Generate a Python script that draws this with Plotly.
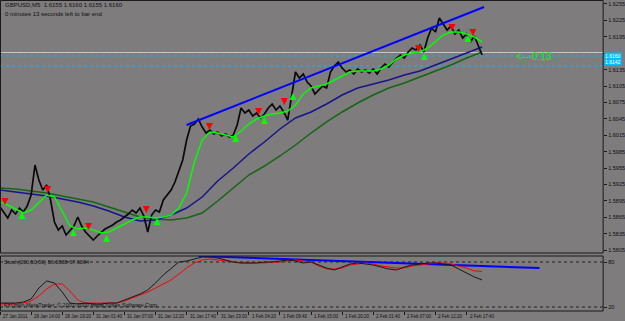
import numpy as np
import plotly.graph_objects as go

# ---------------- data ----------------
# close prices, one value every 8 M5 bars
close = [1.58837, 1.58727, 1.58636, 1.58782, 1.58709, 1.58819, 1.58746, 1.58855, 1.59056, 1.59605,
         1.59331, 1.59148, 1.59239, 1.58965, 1.58563, 1.58416, 1.58490, 1.58325, 1.58416, 1.58490,
         1.58654, 1.58490, 1.58380, 1.58307, 1.58233, 1.58307, 1.58380, 1.58435, 1.58471, 1.58508,
         1.58563, 1.58599, 1.58654, 1.58709, 1.58782, 1.58727, 1.58819, 1.58672, 1.58380, 1.58691,
         1.58782, 1.58746, 1.58965, 1.59056, 1.59148, 1.59294, 1.59514, 1.59697, 1.60062, 1.60318,
         1.60355, 1.60446, 1.60300, 1.60190, 1.60245, 1.60172, 1.60209, 1.60136, 1.60172, 1.60117,
         1.60154, 1.60337, 1.60648, 1.60556, 1.60611, 1.60501, 1.60556, 1.60465, 1.60538, 1.60648,
         1.60721, 1.60611, 1.60684, 1.60575, 1.60428, 1.60885, 1.61306, 1.61196, 1.61270, 1.61123,
         1.61050, 1.60904, 1.60977, 1.61050, 1.61014, 1.61306, 1.61416, 1.61489, 1.61379, 1.61306,
         1.61343, 1.61270, 1.61361, 1.61306, 1.61343, 1.61288, 1.61361, 1.61270, 1.61379, 1.61452,
         1.61398, 1.61489, 1.61562, 1.61617, 1.61562, 1.61672, 1.61745, 1.61709, 1.61800, 1.61672,
         1.61928, 1.62111, 1.62038, 1.62294, 1.62184, 1.62074, 1.62148, 1.62001, 1.62074, 1.61928,
         1.62001, 1.61855, 1.61965, 1.61782, 1.61617]
close_step = 8

# fast MA (lime), one value every 16 bars
ma_fast = [1.58928, 1.58874, 1.58800, 1.58727, 1.58782, 1.58928, 1.59056, 1.59020, 1.58746, 1.58490,
           1.58435, 1.58453, 1.58416, 1.58361, 1.58380, 1.58453, 1.58526, 1.58599, 1.58654, 1.58654,
           1.58636, 1.58654, 1.58691, 1.58819, 1.59093, 1.59660, 1.60062, 1.60209, 1.60190, 1.60154,
           1.60117, 1.60227, 1.60355, 1.60446, 1.60501, 1.60538, 1.60556, 1.60593, 1.60703, 1.60904,
           1.61014, 1.61050, 1.61087, 1.61160, 1.61233, 1.61306, 1.61324, 1.61324, 1.61324, 1.61361,
           1.61434, 1.61544, 1.61617, 1.61654, 1.61672, 1.61745, 1.61873, 1.61983, 1.62038, 1.62038,
           1.62001, 1.61946, 1.61855]
ma_fast_step = 16

# slow MA (navy), one value every 32 bars
ma_slow = [1.59148, 1.59111, 1.59075, 1.59038, 1.58983, 1.58928, 1.58855, 1.58764, 1.58654, 1.58581,
           1.58599, 1.58691, 1.58819, 1.59020, 1.59313, 1.59550, 1.59806, 1.60026, 1.60264, 1.60465,
           1.60575, 1.60721, 1.60885, 1.61014, 1.61087, 1.61160, 1.61251, 1.61324, 1.61434, 1.61544,
           1.61654, 1.61763]
# slowest MA (dark green), one value every 32 bars
ma_slowest = [1.59185, 1.59166, 1.59130, 1.59093, 1.59038, 1.58983, 1.58928, 1.58837, 1.58746, 1.58654,
              1.58618, 1.58599, 1.58636, 1.58727, 1.58947, 1.59185, 1.59422, 1.59587, 1.59770, 1.59971,
              1.60190, 1.60392, 1.60575, 1.60739, 1.60885, 1.61014, 1.61105, 1.61215, 1.61324, 1.61434,
              1.61562, 1.61672]
ma_slow_step = 32

# signal arrows (bar index, price)
sell_bars = [10, 98, 182, 301, 431, 532, 585, 861, 930, 973]
sell_price = [1.58874, 1.59093, 1.58416, 1.58727, 1.60245, 1.60520, 1.60703, 1.61672, 1.62056, 1.61965]
buy_bars = [45, 151, 219, 323, 485, 544, 603, 873, 963]
buy_price = [1.58746, 1.58435, 1.58325, 1.58636, 1.60154, 1.60483, 1.60922, 1.61654, 1.61983]

# channel trend line
chan_bars = [384, 996]
chan_price = [1.60337, 1.62495]

# horizontal lines
bid_level = 1.61663
level_hi = 1.61600
level_lo = 1.61416

# stochastic, one value every 16 bars
stoch_k = [25.3, 25.3, 25.3, 26.7, 30.7, 45.3, 54.7, 52.0, 40.0, 25.3, 24.0, 25.3, 24.0, 24.0, 25.3, 25.3,
           29.3, 33.3, 37.3, 42.7, 52.0, 62.7, 72.0, 80.0, 81.3, 84.0, 86.7, 86.7, 85.3, 82.7, 80.0, 78.7,
           78.7, 78.7, 80.0, 80.0, 81.3, 82.7, 81.3, 78.7, 80.0, 76.0, 72.0, 69.3, 73.3, 77.3, 78.7, 77.3,
           76.0, 73.3, 70.7, 69.3, 73.3, 76.0, 77.3, 78.7, 78.7, 77.3, 76.0, 70.7, 65.3, 60.0, 56.1]
stoch_d = [24.0, 24.0, 24.0, 25.3, 28.0, 34.7, 44.0, 50.7, 50.7, 41.3, 29.3, 25.3, 25.3, 25.3, 25.3, 25.3,
           28.0, 32.0, 36.0, 40.0, 45.3, 50.7, 56.0, 64.0, 72.0, 78.7, 82.7, 84.0, 82.7, 81.3, 80.0, 78.7,
           78.7, 78.7, 78.7, 80.0, 80.0, 81.3, 82.7, 81.3, 80.0, 74.7, 70.7, 70.7, 72.0, 76.0, 77.3, 78.7,
           77.3, 74.7, 73.3, 72.0, 72.0, 74.7, 76.0, 77.3, 78.7, 78.7, 77.3, 74.7, 72.0, 68.0, 67.6]
stoch_step = 16
stoch_trend_bars = [409, 1110]
stoch_trend_vals = [88.0, 72.0]

# axis labels
price_ticks = [1.5805, 1.5835, 1.5865, 1.5895, 1.5925, 1.5955, 1.5985, 1.6015, 1.6045, 1.6075,
               1.6105, 1.6135, 1.6165, 1.6195, 1.6225, 1.6255]
price_labels = ["1.5805", "1.5835", "1.5865", "1.5895", "1.5925", "1.5955", "1.5985", "1.6015",
                "1.6045", "1.6075", "1.6105", "1.6135", "", "1.6195", "1.6225", "1.6255"]
time_bars = [0, 64, 128, 192, 256, 320, 384, 448, 512, 576, 640, 704, 768, 832, 896, 960]
time_labels = ["27 Jan 2011", "28 Jan 14:00", "28 Jan 19:20", "31 Jan 01:40", "31 Jan 07:00",
               "31 Jan 12:20", "31 Jan 17:40", "31 Jan 23:00", "1 Feb 04:20", "1 Feb 09:40",
               "1 Feb 15:00", "1 Feb 20:20", "2 Feb 01:40", "2 Feb 07:00", "2 Feb 12:20", "2 Feb 17:40"]

# ---------------- figure ----------------
W, H = 625, 321
XR = 0.9712           # right end of plotting area (paper)
MAIN = [68 / H, 1.0]
SUB = [10 / H, 65 / H]
BG = "#7e7c7c"
FONT = "Liberation Sans"
TXT = "#111111"

fig = go.Figure()

def bars(n, step):
    return np.arange(n) * step

# horizontal levels
fig.add_trace(go.Scatter(x=[0, 1241], y=[bid_level] * 2, mode="lines",
                         line=dict(color="#c8c8c8", width=1), hoverinfo="skip"))
for lv in (level_hi, level_lo):
    fig.add_trace(go.Scatter(x=[0, 1241], y=[lv] * 2, mode="lines",
                             line=dict(color="#00bfff", width=1, dash="dot"), hoverinfo="skip"))

fig.add_trace(go.Scatter(x=bars(len(ma_slowest), ma_slow_step), y=ma_slowest, mode="lines",
                         line=dict(color="#156615", width=1.5)))
fig.add_trace(go.Scatter(x=bars(len(ma_slow), ma_slow_step), y=ma_slow, mode="lines",
                         line=dict(color="#16168c", width=1.5)))
fig.add_trace(go.Scatter(x=bars(len(close), close_step), y=close, mode="lines",
                         line=dict(color="#0a0a0a", width=1.7)))
fig.add_trace(go.Scatter(x=bars(len(ma_fast), ma_fast_step), y=ma_fast, mode="lines",
                         line=dict(color="#00ff00", width=1.5)))
fig.add_trace(go.Scatter(x=chan_bars, y=chan_price, mode="lines",
                         line=dict(color="#0000ff", width=2)))
fig.add_trace(go.Scatter(x=sell_bars, y=sell_price, mode="markers",
                         marker=dict(symbol="arrow-down", size=7, color="#ff0000",
                                     line=dict(width=0))))
fig.add_trace(go.Scatter(x=buy_bars, y=buy_price, mode="markers",
                         marker=dict(symbol="arrow-up", size=7, color="#00ff00",
                                     line=dict(width=0))))

# stochastic
for lv in (80, 20):
    fig.add_trace(go.Scatter(x=[0, 1241], y=[lv, lv], mode="lines", yaxis="y2",
                             line=dict(color="#222222", width=1, dash="dot"), hoverinfo="skip"))
fig.add_trace(go.Scatter(x=stoch_trend_bars, y=stoch_trend_vals, mode="lines", yaxis="y2",
                         line=dict(color="#0000ff", width=2)))
fig.add_trace(go.Scatter(x=bars(len(stoch_d), stoch_step), y=stoch_d, mode="lines", yaxis="y2",
                         line=dict(color="#ff0000", width=1)))
fig.add_trace(go.Scatter(x=bars(len(stoch_k), stoch_step), y=stoch_k, mode="lines", yaxis="y2",
                         line=dict(color="#1a1a1a", width=1)))

annotations = []
for b, t in zip(time_bars, time_labels):
    annotations.append(dict(x=b + 2, y=SUB[0] - 0.003, xref="x", yref="paper", text=t,
                            showarrow=False, xanchor="left", yanchor="top",
                            font=dict(family=FONT, size=4.5, color=TXT)))
annotations += [
    dict(x=0.005, y=0.999, xref="paper", yref="paper", xanchor="left", yanchor="top",
         text="GBPUSD,M5  1.6155 1.6160 1.6155 1.6160", showarrow=False,
         font=dict(family=FONT, size=6, color=TXT)),
    dict(x=0.005, y=0.972, xref="paper", yref="paper", xanchor="left", yanchor="top",
         text="0 minutes 13 seconds left to bar end", showarrow=False,
         font=dict(family=FONT, size=6, color=TXT)),
    dict(x=0.004, y=SUB[1] - 0.004, xref="paper", yref="paper", xanchor="left", yanchor="top",
         text="Stoch(200,50,50) 56.0838 67.6384", showarrow=False,
         font=dict(family=FONT, size=5.5, color=TXT)),
    dict(x=0.004, y=SUB[0] + 0.004, xref="paper", yref="paper", xanchor="left", yanchor="bottom",
         text="FXOpen MetaTrader, © 2001-2009 MetaQuotes Software Corp.", showarrow=False,
         font=dict(family=FONT, size=5.5, color=TXT)),
    dict(x=1057, y=1.61581, xref="x", yref="y", xanchor="left", yanchor="middle",
         text="<---0:13", showarrow=False,
         font=dict(family=FONT, size=10, color="#00ff00")),
]
for lv, txt, anc in ((level_hi, "1.6160", "middle"), (level_lo, "1.6142", "bottom")):
    annotations.append(dict(x=XR + 0.002, y=lv, xref="paper", yref="y", xanchor="left",
                            yanchor=anc, text=txt, showarrow=False, bgcolor="#00bfff",
                            borderpad=0, font=dict(family=FONT, size=5, color="#ffffff")))

shapes = [
    dict(type="rect", xref="paper", yref="paper", x0=0.0008, x1=XR, y0=MAIN[0], y1=0.9985,
         line=dict(color="#1a1a1a", width=1)),
    dict(type="rect", xref="paper", yref="paper", x0=0.0008, x1=XR, y0=SUB[0], y1=SUB[1],
         line=dict(color="#1a1a1a", width=1)),
]

fig.update_layout(
    width=W, height=H, autosize=False,
    margin=dict(l=0, r=0, t=0, b=0),
    paper_bgcolor=BG, plot_bgcolor=BG,
    showlegend=False,
    font=dict(family=FONT, size=6, color=TXT),
    xaxis=dict(domain=[0, XR], range=[0, 1241], anchor="y2", showgrid=False, zeroline=False,
               tickvals=time_bars, showticklabels=False, ticks="outside", ticklen=3,
               tickcolor="#1a1a1a"),
    yaxis=dict(domain=MAIN, range=[1.57996, 1.62623], side="right", anchor="x",
               showgrid=False, zeroline=False, tickvals=price_ticks, ticktext=price_labels,
               ticks="outside", ticklen=3, tickcolor="#1a1a1a",
               tickfont=dict(family=FONT, size=5.5, color=TXT)),
    yaxis2=dict(domain=SUB, range=[14.7, 88.0], side="right", anchor="x",
                showgrid=False, zeroline=False, tickvals=[20, 80], ticktext=["20", "80"],
                ticks="outside", ticklen=3, tickcolor="#1a1a1a",
                tickfont=dict(family=FONT, size=5.5, color=TXT)),
    annotations=annotations,
    shapes=shapes,
)

fig.write_html("out.html")
